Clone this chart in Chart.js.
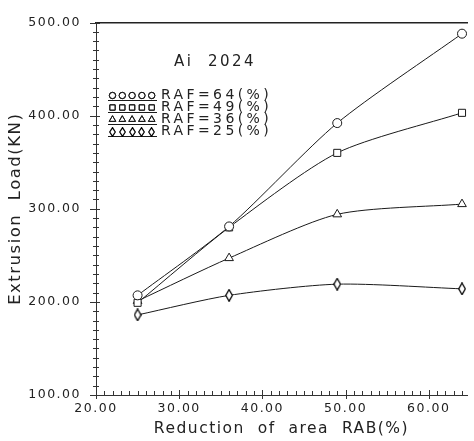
<!DOCTYPE html>
<html><head><meta charset="utf-8">
<script src="https://cdn.jsdelivr.net/npm/chart.js@4.4.1/dist/chart.umd.min.js"></script>
<style>html,body{margin:0;padding:0;background:#fff;overflow:hidden;}</style>
</head><body>
<canvas id="c" width="474" height="441"></canvas>
<script>
// ---- data ----
const reductionOfArea = [25, 36, 49, 64];          // RAB (%)
const raf64 = [207, 281, 392, 488];
const raf49 = [199, 280, 360, 403];
const raf36 = [201, 247, 294, 305];
const raf25 = [186, 207, 219, 214];
const seriesLabels = ['RAF=64(%)', 'RAF=49(%)', 'RAF=36(%)', 'RAF=25(%)'];
const yMajorTicks = [100, 200, 300, 400, 500];
const xMajorTicks = [20, 30, 40, 50, 60];
const chartTitle = 'Ai  2024';
const xTitle = 'Reduction  of  area  RAB(%)';
const yTitle = 'Extrusion  Load(KN)';

const INK = '#1a1a1a';
const FONT = '"DejaVu Sans", "Liberation Sans", sans-serif';

function makeDiamond(w, h) {
  const c = document.createElement('canvas');
  c.width = w; c.height = h;
  const g = c.getContext('2d');
  g.fillStyle = '#fff'; g.strokeStyle = '#000'; g.lineWidth = 1.3;
  g.beginPath();
  g.moveTo(w / 2, 0.7); g.lineTo(w - 0.7, h / 2); g.lineTo(w / 2, h - 0.7); g.lineTo(0.7, h / 2);
  g.closePath(); g.fill(); g.stroke();
  return c;
}
const diamondBig = makeDiamond(8, 13);
const diamondSmall = makeDiamond(7, 10);

const styles = [
  {pointStyle: 'circle', radius: 4.5, legendRadius: 3.2},
  {pointStyle: 'rect', radius: 5, legendRadius: 3.8},
  {pointStyle: 'triangle', radius: 5, legendRadius: 3.8},
  {pointStyle: diamondBig, radius: 6, legendImg: diamondSmall}
];
const seriesValues = [raf64, raf49, raf36, raf25];

const datasets = seriesValues.map((vals, i) => ({
  label: seriesLabels[i],
  data: reductionOfArea.map((x, j) => ({x: x, y: vals[j]})),
  borderColor: INK,
  borderWidth: 1,
  backgroundColor: '#fff',
  pointStyle: styles[i].pointStyle,
  pointRadius: styles[i].radius,
  pointBorderColor: INK,
  pointBackgroundColor: '#fff',
  pointBorderWidth: 1,
  tension: 0.25,
  fill: false
}));

const spacing = {
  id: 'spacing',
  beforeDraw(chart) { chart.ctx.letterSpacing = '1.5px'; }
};

const ticksPlugin = {
  id: 'ticksPlugin',
  afterDraw(chart) {
    const ctx = chart.ctx, a = chart.chartArea;
    const xs = chart.scales.x, ys = chart.scales.y;
    ctx.save();
    ctx.strokeStyle = '#333'; ctx.lineWidth = 1;
    ys.ticks.forEach(t => {
      const py = Math.round(ys.getPixelForValue(t.value)) + 0.5;
      const major = yMajorTicks.includes(t.value);
      ctx.beginPath();
      ctx.moveTo(a.left - (major ? 6 : 3), py);
      ctx.lineTo(a.left + (major ? 4 : 3), py);
      ctx.stroke();
    });
    xs.ticks.forEach(t => {
      const px = Math.round(xs.getPixelForValue(t.value)) + 0.5;
      const major = xMajorTicks.includes(t.value);
      ctx.beginPath();
      ctx.moveTo(px, a.bottom + (major ? 4 : 1));
      ctx.lineTo(px, a.bottom - (major ? 5 : 4));
      ctx.stroke();
    });
    ctx.restore();
  }
};

const legendPlugin = {
  id: 'legendPlugin',
  afterDraw(chart) {
    const ctx = chart.ctx;
    ctx.save();
    ctx.fillStyle = '#222';
    ctx.letterSpacing = '2.5px';
    ctx.font = '15px ' + FONT;
    ctx.textAlign = 'center';
    ctx.textBaseline = 'middle';
    ctx.fillText(chartTitle, 215, 62);
    ctx.textAlign = 'left';
    ctx.letterSpacing = '3.4px';
    ctx.font = '14px ' + FONT;
    const rowY = [95, 107, 119, 131];
    chart.data.datasets.forEach((ds, i) => {
      const y = rowY[i];
      ctx.fillStyle = '#222';
      ctx.fillText(ds.label, 161, y);
      // underline
      ctx.strokeStyle = INK; ctx.lineWidth = 1;
      const uy = Math.round(y + 5) + 0.5;
      ctx.beginPath(); ctx.moveTo(108, uy); ctx.lineTo(157, uy); ctx.stroke();
      for (let k = 0; k < 5; k++) {
        const cx = 112.5 + k * 9.8;
        if (styles[i].legendImg) {
          const img = styles[i].legendImg;
          ctx.drawImage(img, Math.round(cx - img.width / 2), uy - img.height + 0.5);
        } else {
          ctx.fillStyle = '#fff';
          Chart.helpers.drawPoint(ctx, {pointStyle: styles[i].pointStyle, radius: styles[i].legendRadius, rotation: 0, borderWidth: 1}, cx, y + 0.5);
          ctx.stroke();
        }
      }
    });
    ctx.restore();
  }
};

new Chart(document.getElementById('c'), {
  type: 'line',
  data: {datasets: datasets},
  plugins: [spacing, ticksPlugin, legendPlugin],
  options: {
    responsive: false,
    animation: false,
    devicePixelRatio: 1,
    layout: {padding: {top: 14, right: 1, left: 0, bottom: 0}},
    plugins: {legend: {display: false}, tooltip: {enabled: false}, title: {display: false}},
    scales: {
      x: {
        type: 'linear', position: 'bottom', min: 20, max: 64.6,
        afterFit(s) { s.height = 46; },
        grid: {display: true, drawOnChartArea: false, drawTicks: false},
        border: {display: true, color: '#333', width: 1},
        ticks: {
          stepSize: 1, includeBounds: false, autoSkip: false, maxRotation: 0, padding: 6,
          color: '#222', font: {family: FONT, size: 12.5},
          callback: v => xMajorTicks.includes(v) ? v.toFixed(2) : ''
        },
        title: {display: true, text: xTitle, color: '#222', font: {family: FONT, size: 15.5}, padding: {top: 0, bottom: 3}}
      },
      x2: {
        type: 'linear', position: 'top', min: 20, max: 64.6, display: true,
        afterFit(s) { s.height = 0; },
        grid: {display: true, drawOnChartArea: false, drawTicks: false},
        border: {display: true, color: '#222', width: 1.5},
        ticks: {display: false}
      },
      y: {
        type: 'linear', position: 'left', min: 100, max: 500,
        afterFit(s) { s.width = 96; },
        grid: {display: true, drawOnChartArea: false, drawTicks: false},
        border: {display: true, color: '#333', width: 1},
        ticks: {
          stepSize: 10, autoSkip: false, padding: 15,
          color: '#222', font: {family: FONT, size: 12.5},
          callback: v => yMajorTicks.includes(v) ? v.toFixed(2) : ''
        },
        title: {display: true, text: yTitle, color: '#222', font: {family: FONT, size: 16.5}, padding: {top: 6, bottom: 0}}
      }
    }
  }
});
</script>
</body></html>
